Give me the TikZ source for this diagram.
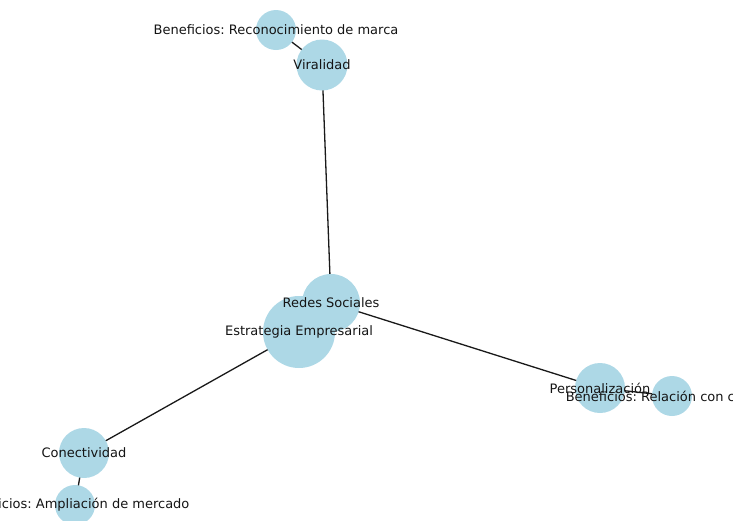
\documentclass[tikz,border=0pt]{standalone}
\usepackage{fontspec}
\setmainfont{DejaVu Sans}
\frenchspacing
\usetikzlibrary{backgrounds}
\definecolor{nodeblue}{RGB}{173,216,230}
\definecolor{txt}{RGB}{20,20,20}
\tikzset{
  vtx/.style={circle, fill=nodeblue, draw=none, inner sep=0pt, minimum size=#1},
  lbl/.style={text=txt, inner sep=0pt, font=\fontsize{13}{15}\selectfont},
  edge/.style={draw=black!90, line width=1.3pt}
}
\begin{document}
\begin{tikzpicture}[x=1pt,y=-1pt]
\useasboundingbox (0,0) rectangle (733,520);
\clip (0,0) rectangle (733,520);
% nodes
\node[vtx=72pt] (est) at (299,332) {};
\node[vtx=58pt] (red) at (331,303) {};
\node[vtx=51pt] (vir) at (322,65) {};
\node[vtx=40pt] (bre) at (276,30) {};
\node[vtx=50pt] (per) at (600,388) {};
\node[vtx=40pt] (brc) at (672,396) {};
\node[vtx=50pt] (con) at (84,453) {};
\node[vtx=40pt] (bam) at (75,505) {};
% edges
\begin{scope}[on background layer]
\draw[edge] (est.center) -- (red.center);
\draw[edge] (red.center) -- (vir.center);
\draw[edge] (vir.center) -- (bre.center);
\draw[edge] (red.center) -- (per.center);
\draw[edge] (per.center) -- (brc.center);
\draw[edge] (est.center) -- (con.center);
\draw[edge] (con.center) -- (bam.center);
\end{scope}
% labels
\node[lbl] at (est.center) {Estrategia Empresarial};
\node[lbl] at (red.center) {Redes Sociales};
\node[lbl] at (vir.center) {Viralidad};
\node[lbl] at (bre.center) {Beneficios: Reconocimiento de marca};
\node[lbl] at (per.center) {Personalización};
\node[lbl] at (brc.center) {Beneficios: Relación con clientes};
\node[lbl] at (con.center) {Conectividad};
\node[lbl] at (bam.center) {Beneficios: Ampliación de mercado};
\end{tikzpicture}
\end{document}
